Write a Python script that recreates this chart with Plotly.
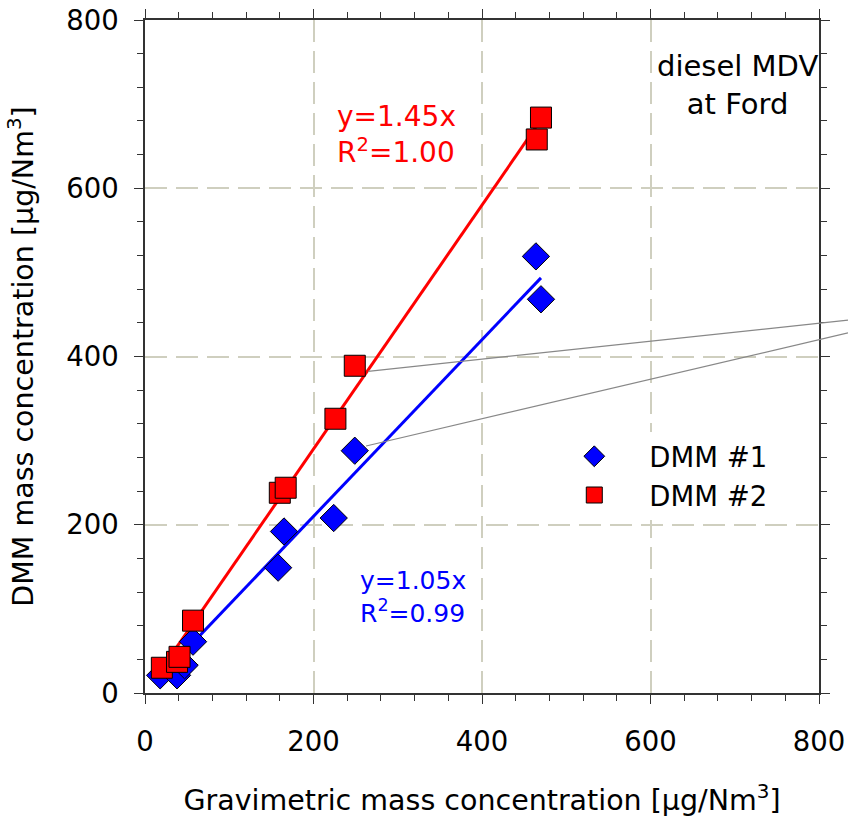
import plotly.graph_objects as go

# Data
dmm1_x = [18, 38, 47, 57, 158, 165, 224, 249, 464, 470]
dmm1_y = [21, 21, 33, 61, 149, 192, 208, 288, 519, 468]
dmm2_x = [20, 38, 41, 57, 160, 167, 226, 249, 465, 470]
dmm2_y = [30, 37, 43, 86, 238, 244, 326, 389, 658, 684]
slope1 = 1.05
slope2 = 1.45
fit_x = [18, 470]

FONT = "DejaVu Sans"

fig = go.Figure()
fig.add_trace(go.Scatter(x=fit_x, y=[slope1 * v for v in fit_x], mode="lines",
                         line=dict(color="#0000ff", width=3), showlegend=False, hoverinfo="skip"))
fig.add_trace(go.Scatter(x=[min(dmm2_x), max(dmm2_x)], y=[slope2 * min(dmm2_x), slope2 * max(dmm2_x)],
                         mode="lines", line=dict(color="#ff0000", width=3), showlegend=False, hoverinfo="skip"))
fig.add_trace(go.Scatter(x=dmm1_x, y=dmm1_y, mode="markers", name="DMM #1",
                         marker=dict(symbol="diamond", size=21, color="#0000ff",
                                     line=dict(color="#000000", width=1))))
fig.add_trace(go.Scatter(x=dmm2_x, y=dmm2_y, mode="markers", name="DMM #2",
                         marker=dict(symbol="square", size=21, color="#ff0000",
                                     line=dict(color="#000000", width=1))))

axis_common = dict(
    range=[0, 800], dtick=200, tick0=0, automargin=False,
    showline=True, linecolor="#333333", linewidth=1.5, mirror="ticks",
    ticks="outside", ticklen=9, tickwidth=1.2, tickcolor="#333333",
    showgrid=True, gridcolor="#cfcfbf", gridwidth=1.5, griddash="22px,9px",
    zeroline=False,
    tickfont=dict(family=FONT, size=27.5, color="#000000"),
    minor=dict(dtick=40, ticks="outside", ticklen=6, tickcolor="#333333", showgrid=False),
)

fig.update_xaxes(**axis_common,
                 title=dict(text="Gravimetric mass concentration [µg/Nm<sup>3</sup>]",
                            font=dict(family=FONT, size=28.5, color="#000000"), standoff=34),
                 ticklabelstandoff=14)
fig.update_yaxes(**axis_common,
                 title=dict(text="DMM mass concentration [µg/Nm<sup>3</sup>]",
                            font=dict(family=FONT, size=28.5, color="#000000"), standoff=24),
                 ticklabelstandoff=10)

fig.update_layout(
    width=848, height=825,
    margin=dict(l=145, r=29, t=20, b=132),
    plot_bgcolor="white", paper_bgcolor="white",
    font=dict(family=FONT, color="#000000"),
    legend=dict(x=0.585, y=0.388, xanchor="left", yanchor="top",
                bgcolor="white", borderwidth=0,
                font=dict(family=FONT, size=27.5, color="#000000"),
                itemwidth=100, tracegroupgap=0),
    annotations=[
        dict(x=299, y=664, xref="x", yref="y", showarrow=False,
             text="y=1.45x<br>R<sup>2</sup>=1.00", align="left",
             font=dict(family=FONT, size=28, color="#ff0000")),
        dict(x=318, y=114, xref="x", yref="y", showarrow=False,
             text="y=1.05x<br>R<sup>2</sup>=0.99", align="left",
             font=dict(family=FONT, size=25, color="#0000ff")),
        dict(x=703, y=723, xref="x", yref="y", showarrow=False,
             text="diesel MDV<br>at Ford", align="center",
             font=dict(family=FONT, size=29, color="#000000")),
    ],
    shapes=[
        dict(type="line", xref="paper", yref="paper", x0=0.331, y0=0.478, x1=1.043, y1=0.554,
             line=dict(color="#888888", width=1.2)),
        dict(type="line", xref="paper", yref="paper", x0=0.328, y0=0.367, x1=1.043, y1=0.535,
             line=dict(color="#888888", width=1.2)),
    ],
)

fig.write_html("out.html")
